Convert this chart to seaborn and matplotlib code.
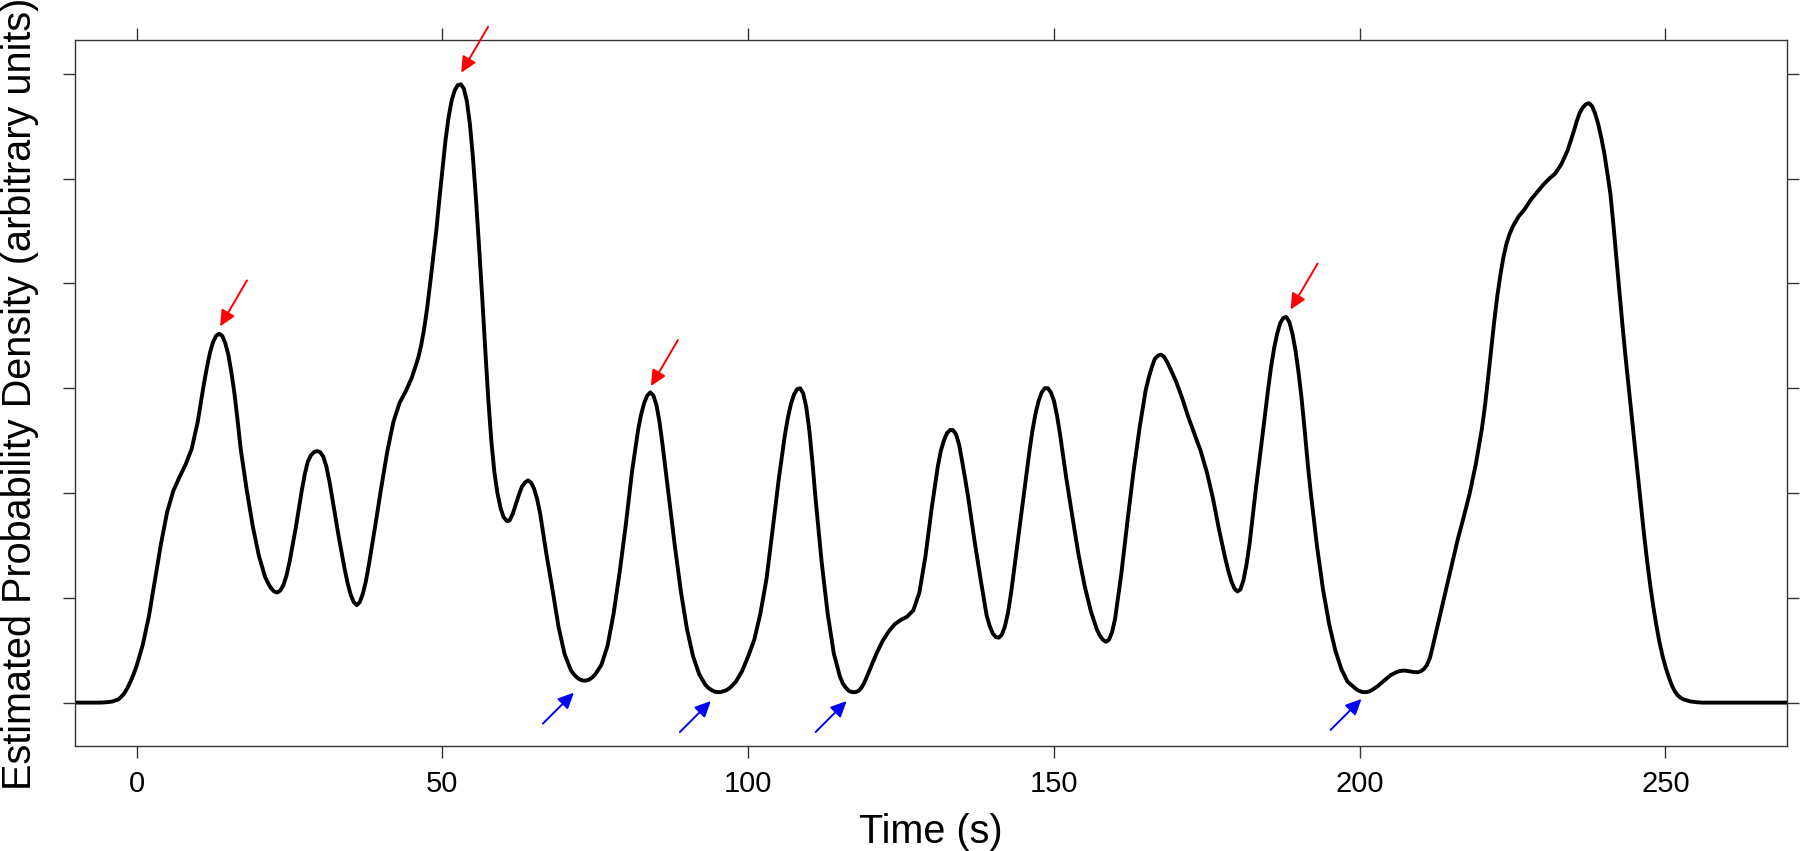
import matplotlib
matplotlib.use("Agg")
import matplotlib.pyplot as plt
import seaborn as sns
import pandas as pd
from matplotlib.patches import ArrowStyle

# ---- data (density in arbitrary units = y-tick steps) ----
time_s = [
    -10, -6, -5, -4, -3, -2.5, -2, -1.5, -1, -0.5, 0, 1, 2, 3, 4, 5, 6, 7, 8, 9, 10, 10.5,
    11, 11.5, 12, 12.5, 13, 13.5, 14, 14.5, 15, 15.5, 16, 16.5, 17, 18, 19, 20,
    21, 21.5, 22, 22.5, 23, 23.5, 24, 24.5, 25, 26,
    27, 27.5, 28, 28.5, 29, 29.5, 30, 30.5, 31, 31.5, 32, 33, 34,
    34.5, 35, 35.5, 36, 36.5, 37, 37.5, 38, 39, 40, 41, 42, 43, 44, 45,
    46, 46.5, 47, 47.5, 48, 48.5, 49, 49.5, 50, 50.5, 51, 51.5, 52, 52.5, 53, 53.5, 54,
    54.5, 55, 55.5, 56, 56.5, 57, 57.5, 58, 58.5, 59, 59.5, 60, 60.6, 61, 61.5, 62,
    62.5, 63, 63.5, 64, 64.5, 65, 65.5, 66, 67, 68, 69, 70,
    71, 71.5, 72, 72.5, 73, 73.5, 74, 74.5, 75, 76, 77, 78, 79, 80, 81,
    82, 82.5, 83, 83.5, 84, 84.5, 85, 85.5, 86, 87, 88, 89, 90, 91, 92,
    93, 93.5, 94, 94.5, 95, 95.5, 96, 96.5, 97, 98, 99, 100, 101, 102, 103, 104, 105,
    106, 106.5, 107, 107.5, 108, 108.5, 109, 109.5, 110, 110.5, 111, 112, 113, 114,
    115, 115.5, 116, 116.5, 117, 117.5, 118, 118.5, 119, 120, 121, 122, 123, 124, 125,
    126, 127, 128, 129, 130,
    131, 131.5, 132, 132.5, 133, 133.5, 134, 134.5, 135, 135.5, 136, 137, 138,
    139, 139.5, 140, 140.5, 141, 141.5, 142, 142.5, 143, 144, 145, 146,
    146.5, 147, 147.5, 148, 148.5, 149, 149.5, 150, 150.5, 151, 152, 153, 154, 155, 156,
    157, 157.5, 158, 158.5, 159, 159.5, 160, 161, 162, 163, 164,
    165, 165.5, 166, 166.5, 167, 167.5, 168, 168.5, 169, 170, 171, 172, 173, 174, 175, 176,
    177, 178, 178.5, 179, 179.5, 180, 180.5, 181, 181.5, 182, 183, 184, 185,
    185.5, 186, 186.5, 187, 187.5, 188, 188.5, 189, 189.5, 190, 190.5, 191, 191.5, 192,
    193, 194, 195, 196, 197, 198,
    199, 199.5, 200, 200.5, 201, 201.5, 202, 203, 204,
    205, 206, 206.5, 207, 207.5, 208, 208.5, 209, 209.5, 210, 210.5, 211, 211.5, 212,
    213, 214, 215, 216, 217, 218, 219, 220, 220.5, 221, 221.5, 222, 222.5, 223, 223.5,
    224, 224.5, 225, 226, 227, 228, 229, 230, 231, 232, 233, 234,
    235, 235.5, 236, 236.5, 237, 237.5, 238, 238.5, 239, 239.5, 240,
    240.5, 241, 241.5, 242, 242.5, 243, 243.5, 244, 244.5, 245, 245.5, 246, 246.5, 247,
    247.5, 248, 248.5, 249, 249.5, 250, 250.5, 251, 251.5, 252, 252.5, 253, 254, 255, 256,
    262, 270]
density = [
    0.0, 0.0, 0.003, 0.01, 0.03, 0.055, 0.09, 0.14, 0.2, 0.27, 0.35, 0.55, 0.82, 1.17,
    1.52, 1.82, 2.02, 2.15, 2.27, 2.42, 2.68, 2.86,
    3.04, 3.2, 3.34, 3.44, 3.5, 3.52, 3.5, 3.43, 3.32, 3.15, 2.95, 2.7, 2.43, 2.03, 1.68, 1.4,
    1.2, 1.14, 1.09, 1.06, 1.05, 1.07, 1.12, 1.21, 1.34, 1.66,
    2.02, 2.18, 2.3, 2.36, 2.39, 2.4, 2.39, 2.35, 2.26, 2.12, 1.95, 1.6, 1.28,
    1.14, 1.03, 0.96, 0.93, 0.96, 1.04, 1.16, 1.32, 1.68, 2.05, 2.4, 2.68, 2.86, 2.97, 3.1,
    3.28, 3.4, 3.56, 3.76, 4.0, 4.25, 4.5, 4.8, 5.08, 5.36, 5.58, 5.74, 5.84, 5.89, 5.9, 5.86,
    5.74,
    5.52, 5.2, 4.8, 4.35, 3.88, 3.38, 2.9, 2.5, 2.2, 2.0, 1.86, 1.77, 1.73, 1.74, 1.8, 1.89,
    1.98, 2.06, 2.1, 2.12, 2.1, 2.04, 1.94, 1.8, 1.42, 1.08, 0.72, 0.46,
    0.31, 0.27, 0.24, 0.22, 0.21, 0.21, 0.22, 0.24, 0.27, 0.36, 0.54, 0.85, 1.25, 1.7, 2.2,
    2.6, 2.75, 2.86, 2.93, 2.96, 2.93, 2.84, 2.68, 2.46, 1.98, 1.5, 1.06, 0.7, 0.44, 0.27,
    0.17, 0.14, 0.12, 0.105, 0.1, 0.1, 0.11, 0.12, 0.14, 0.2, 0.3, 0.44, 0.6, 0.85, 1.18,
    1.65, 2.13,
    2.55, 2.72, 2.85, 2.94, 2.99, 3.0, 2.95, 2.82, 2.6, 2.3, 1.96, 1.35, 0.85, 0.47,
    0.25, 0.18, 0.14, 0.11, 0.1, 0.1, 0.11, 0.14, 0.19, 0.33, 0.47, 0.59, 0.68, 0.75, 0.79,
    0.82, 0.88, 1.05, 1.4, 1.85,
    2.25, 2.4, 2.5, 2.57, 2.6, 2.6, 2.56, 2.46, 2.3, 2.13, 1.95, 1.55, 1.18,
    0.83, 0.73, 0.66, 0.625, 0.62, 0.65, 0.73, 0.86, 1.05, 1.5, 1.95, 2.4,
    2.6, 2.76, 2.88, 2.96, 3.0, 3.0, 2.96, 2.88, 2.74, 2.56, 2.15, 1.78, 1.42, 1.12, 0.88,
    0.7, 0.64, 0.6, 0.58, 0.6, 0.67, 0.8, 1.22, 1.72, 2.2, 2.62,
    2.98, 3.1, 3.2, 3.28, 3.31, 3.32, 3.3, 3.25, 3.19, 3.06, 2.9, 2.72, 2.56, 2.4, 2.2, 1.95,
    1.65, 1.38, 1.26, 1.16, 1.09, 1.06, 1.08, 1.17, 1.32, 1.52, 2.03, 2.5, 2.98,
    3.2, 3.38, 3.52, 3.62, 3.67, 3.68, 3.63, 3.52, 3.36, 3.15, 2.9, 2.6, 2.28, 2.0,
    1.5, 1.08, 0.75, 0.5, 0.32, 0.2,
    0.15, 0.125, 0.11, 0.1, 0.1, 0.105, 0.12, 0.16, 0.21,
    0.26, 0.29, 0.3, 0.305, 0.305, 0.3, 0.295, 0.29, 0.29, 0.3, 0.32, 0.36, 0.43, 0.55,
    0.8, 1.05, 1.3, 1.55, 1.77, 2.0, 2.28, 2.62, 2.84, 3.1, 3.37, 3.64, 3.88, 4.08, 4.25,
    4.38, 4.47, 4.54, 4.64, 4.71, 4.8, 4.87, 4.94, 5.0, 5.05, 5.14, 5.27,
    5.45, 5.55, 5.63, 5.68, 5.71, 5.72, 5.69, 5.62, 5.52, 5.39, 5.24,
    5.05, 4.85, 4.55, 4.22, 3.9, 3.58, 3.28, 3.0, 2.72, 2.45, 2.16, 1.88, 1.6, 1.35,
    1.12, 0.92, 0.74, 0.58, 0.45, 0.34, 0.25, 0.17, 0.11, 0.07, 0.045, 0.03, 0.012, 0.004,
    0.0, 0.0, 0.0]

x_ticks = [0, 50, 100, 150, 200, 250]
y_ticks = [0, 1, 2, 3, 4, 5, 6]

# arrow tips (peaks in red, troughs in blue)
peak_arrow_t = [13.65, 53.07, 84.1, 188.7]
peak_arrow_d = [3.59, 6.01, 3.02, 3.75]
trough_arrow_t = [71.5, 93.9, 116.1, 200.3]
trough_arrow_d = [0.095, 0.015, 0.015, 0.035]

x_label = "Time (s)"
y_label = "Estimated Probability Density (arbitrary units)"

assert len(time_s) == len(density), (len(time_s), len(density))

# ---- style ----
sns.set_theme(style="white")
plt.rcParams["font.family"] = ["Liberation Sans", "DejaVu Sans"]

fig = plt.figure(figsize=(18, 8.51), dpi=100)
ax = fig.add_axes([0.04144, 0.1229, 0.9511, 0.8298])

df = pd.DataFrame({"t": time_s, "d": density})
sns.lineplot(data=df, x="t", y="d", color="black", linewidth=2.8, ax=ax, sort=True)
for ln in ax.get_lines():
    ln.set_solid_joinstyle("round")
    ln.set_solid_capstyle("round")

ax.set_xlim(-10.14, 269.8)
ax.set_ylim(-0.418, 6.32)
ax.set_xticks(x_ticks)
ax.set_xticklabels([str(v) for v in x_ticks])
ax.set_yticks(y_ticks)
frame_col = "#333333"
for sp in ax.spines.values():
    sp.set_visible(True)
    sp.set_color(frame_col)
    sp.set_linewidth(1.0)
ax.tick_params(axis="both", which="major", direction="out", length=8.3, width=1.0,
               color=frame_col, top=True, right=True, bottom=True, left=True,
               labeltop=False, labelright=False, labelleft=False,
               labelsize=21, labelcolor="black", pad=8.5)

ax.set_xlabel(x_label, fontsize=28.5, labelpad=11, color="black")
ax.set_ylabel(y_label, fontsize=28.5, color="black")
ax.yaxis.set_label_coords(-0.0209, 0.5)

style = ArrowStyle("-|>", head_length=0.95, head_width=0.45)
for t, d in zip(peak_arrow_t, peak_arrow_d):
    ax.annotate("", xy=(t, d), xytext=(19.4, 33.1), textcoords="offset points",
                arrowprops=dict(arrowstyle=style, color="#FF0000", lw=1.4,
                                mutation_scale=10, shrinkA=0, shrinkB=0))
for t, d in zip(trough_arrow_t, trough_arrow_d):
    ax.annotate("", xy=(t, d), xytext=(-22.3, -22.3), textcoords="offset points",
                arrowprops=dict(arrowstyle=style, color="#0000FF", lw=1.4,
                                mutation_scale=10, shrinkA=0, shrinkB=0))

fig.savefig("out.png", dpi=100)
